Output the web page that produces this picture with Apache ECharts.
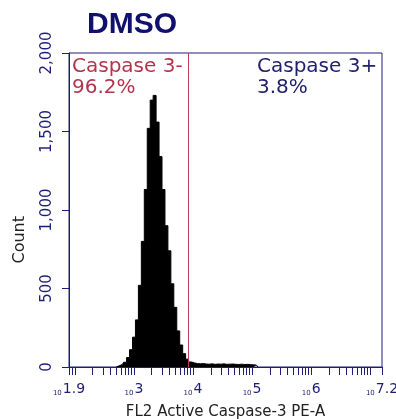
<!DOCTYPE html>
<html>
<head>
<meta charset="utf-8">
<script src="https://cdn.jsdelivr.net/npm/echarts@6/dist/echarts.min.js"></script>
<style>
  html, body { margin: 0; padding: 0; background: #fff; }
  #main { width: 396px; height: 419px; }
</style>
</head>
<body>
<div id="main"></div>
<script>
// channel positions in log10 units of FL2 intensity
const logBins = [2.70, 2.75, 2.80, 2.85, 2.90, 2.95, 3.00, 3.05, 3.10, 3.15,
  3.20, 3.25, 3.30, 3.35, 3.40, 3.45, 3.50, 3.55, 3.60, 3.65,
  3.70, 3.75, 3.80, 3.85, 3.90, 3.95, 4.00, 4.05, 4.10, 4.15,
  4.20, 4.25, 4.30, 4.35, 4.40, 4.45, 4.50, 4.55, 4.60, 4.65,
  4.70, 4.75, 4.80, 4.85, 4.90, 4.95, 5.00, 5.05, 5.10];
const counts = [0, 8, 15, 30, 60, 110, 190, 300, 520, 800,
  1130, 1520, 1700, 1730, 1560, 1340, 1130, 900, 740, 530,
  380, 230, 140, 85, 50, 32, 26, 22, 20, 22,
  19, 18, 20, 17, 19, 18, 20, 17, 18, 19,
  17, 16, 18, 16, 17, 15, 14, 12, 0];
const decadeLabels = [1.9, 3, 4, 5, 6, 7.2];
const gateLog = 3.92;
const gateNeg = ['Caspase 3-', '96.2%'];
const gatePos = ['Caspase 3+', '3.8%'];

const navy = '#1e1e78';

// log-style minor ticks: 1..9 x 10^d inside the axis range
let tickValues = [];
for (let d = 1; d <= 7; d++) {
  for (let k = 1; k <= 9; k++) {
    let v = Math.log10(k) + d;
    if (v >= 1.9 && v <= 7.2) tickValues.push(v);
  }
}
tickValues.push(1.9, 7.2);

const chart = echarts.init(document.getElementById('main'));
chart.setOption({
  animation: false,
  backgroundColor: '#fff',
  title: {
    text: 'DMSO',
    left: 82,
    top: 5,
    textStyle: {fontFamily: 'Liberation Sans', fontWeight: 'bold', fontSize: 30, color: '#10106e'}
  },
  grid: {
    left: 69, right: 14, top: 53, bottom: 52,
    outerBoundsMode: 'none',
    show: true, borderColor: navy, borderWidth: 1
  },
  xAxis: {
    type: 'value',
    min: 1.9,
    max: 7.2,
    splitLine: {show: false},
    axisLine: {lineStyle: {color: navy, width: 1}},
    axisTick: {
      show: true, inside: false, length: 8,
      customValues: tickValues,
      lineStyle: {color: navy, width: 1}
    },
    axisLabel: {
      customValues: decadeLabels,
      margin: 15,
      formatter: function (v) {
        return '{s|10}{e|' + (+v.toFixed(1)) + '}';
      },
      rich: {
        s: {fontFamily: 'DejaVu Sans', fontSize: 7, color: navy, verticalAlign: 'bottom', padding: [8, 1, 0, 0]},
        e: {fontFamily: 'DejaVu Sans', fontSize: 14, color: navy}
      }
    },
    name: 'FL2 Active Caspase-3 PE-A',
    nameLocation: 'middle',
    nameGap: 38,
    nameTextStyle: {fontFamily: 'DejaVu Sans', fontSize: 15, color: '#222'}
  },
  yAxis: {
    type: 'value',
    min: 0,
    max: 2000,
    interval: 500,
    splitLine: {show: false},
    axisLine: {show: true, lineStyle: {color: navy, width: 1}},
    axisTick: {show: true, length: 7, lineStyle: {color: navy}},
    axisLabel: {
      rotate: 90,
      margin: 14,
      fontFamily: 'DejaVu Sans',
      fontSize: 15,
      color: navy,
      formatter: function (v) { return v.toLocaleString('en-US'); }
    }
  },
  graphic: [
    {
      type: 'text', left: 12, top: 216, rotation: Math.PI / 2,
      style: {text: 'Count', fontFamily: 'DejaVu Sans', fontSize: 16, fill: '#222'}
    },
    {
      type: 'text', left: 72, top: 56,
      style: {text: gateNeg.join('\n'), fontFamily: 'DejaVu Sans', fontSize: 20, lineHeight: 21, fill: '#b3344c'}
    },
    {
      type: 'text', left: 257, top: 56,
      style: {text: gatePos.join('\n'), fontFamily: 'DejaVu Sans', fontSize: 20, lineHeight: 21, fill: '#22226e'}
    }
  ],
  series: [
    {
      type: 'line',
      step: 'middle',
      symbol: 'none',
      data: logBins.map((x, i) => [x, counts[i]]),
      lineStyle: {color: '#000', width: 1},
      areaStyle: {color: '#000', opacity: 1},
      markLine: {
        silent: true,
        symbol: 'none',
        label: {show: false},
        lineStyle: {color: '#c03a50', width: 1, type: 'solid'},
        data: [{xAxis: gateLog}]
      }
    }
  ]
});
</script>
</body>
</html>
